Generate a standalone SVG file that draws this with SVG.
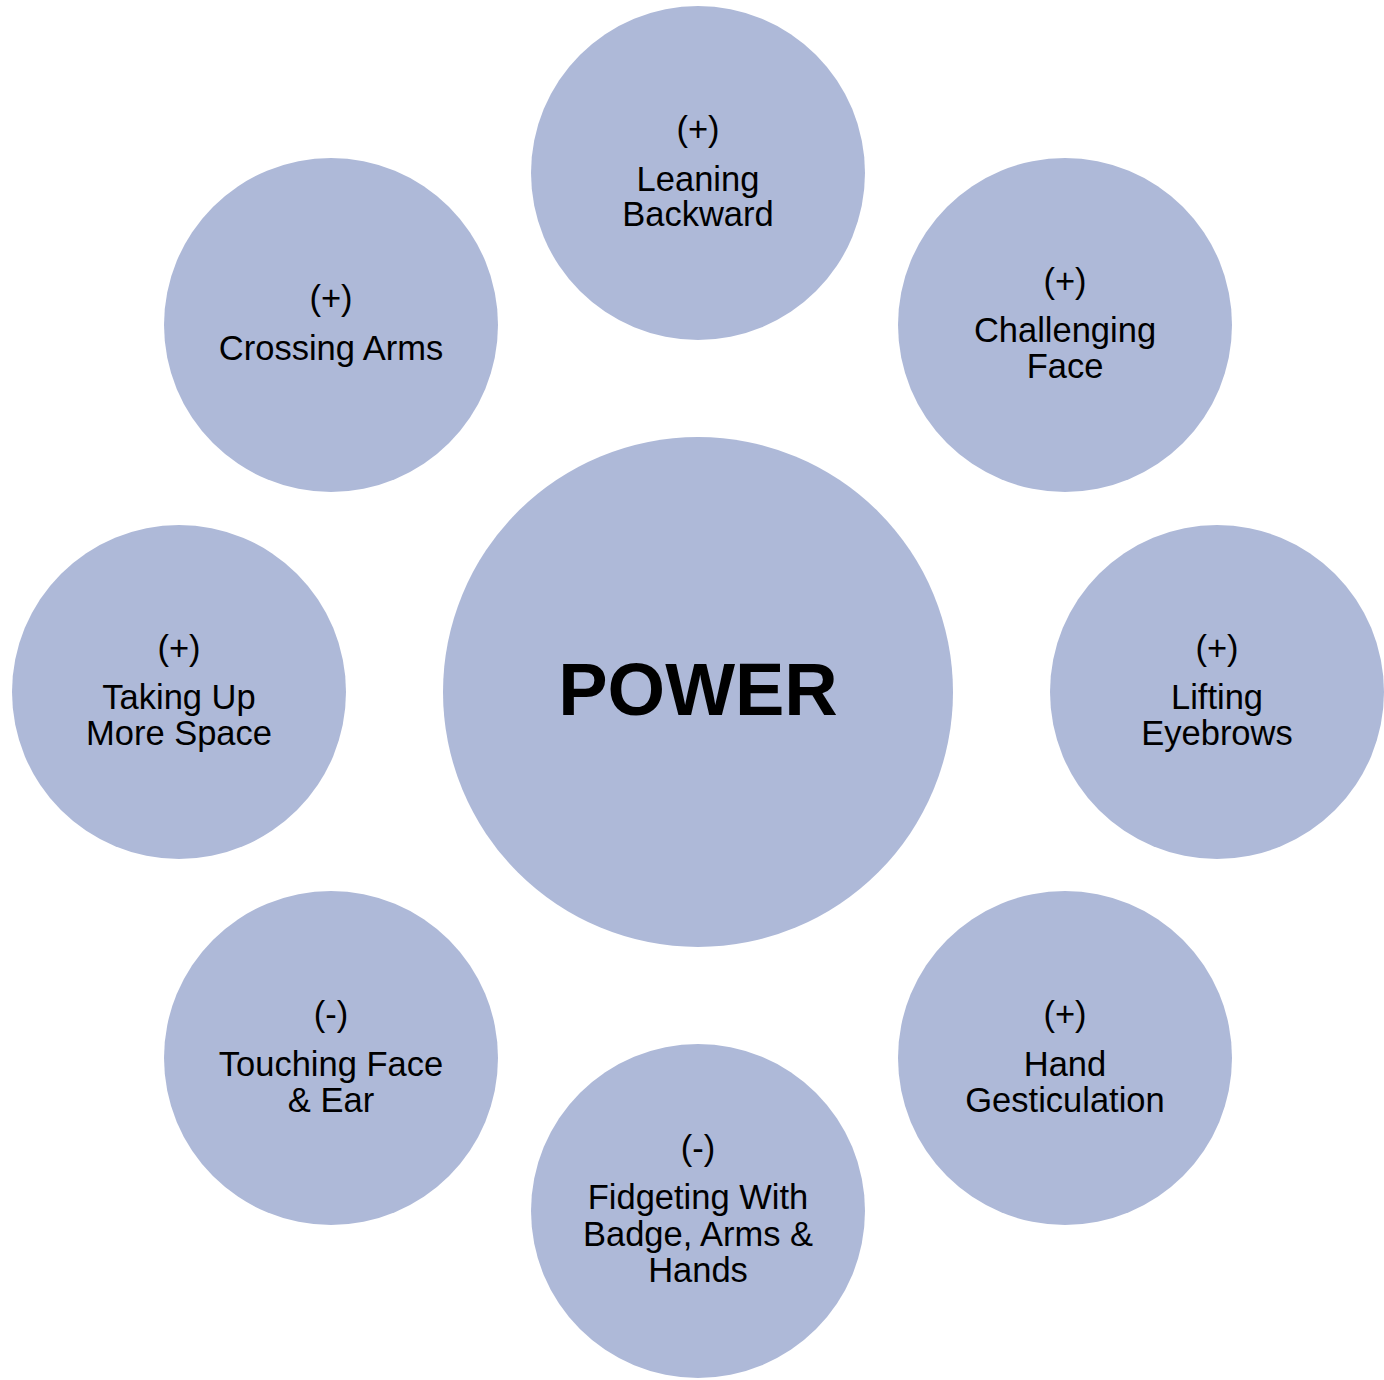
<svg xmlns="http://www.w3.org/2000/svg" width="1384" height="1380" viewBox="0 0 1384 1380">
  <style>
    .bubble { fill: #AEB9D8; }
    .label { font-family: "Liberation Sans", Arial, sans-serif; font-size: 34.5px; fill: #000; text-anchor: middle; }
    .title { font-family: "Liberation Sans", Arial, sans-serif; font-size: 74px; font-weight: bold; fill: #000; text-anchor: middle; }
  </style>
  <rect width="1384" height="1380" fill="#ffffff"/>
  <g id="connectors"></g>

  <g id="node-power">
    <circle class="bubble" cx="698" cy="692" r="255"/>
    <text class="title" x="698" y="715">POWER</text>
  </g>

  <g id="node-leaning-backward">
    <circle class="bubble" cx="698" cy="173" r="167"/>
    <text class="label" x="698" y="141">(+)</text>
    <text class="label" x="698" y="191">Leaning</text>
    <text class="label" x="698" y="226">Backward</text>
  </g>

  <g id="node-challenging-face">
    <circle class="bubble" cx="1065" cy="325" r="167"/>
    <text class="label" x="1065" y="293">(+)</text>
    <text class="label" x="1065" y="342">Challenging</text>
    <text class="label" x="1065" y="378">Face</text>
  </g>

  <g id="node-lifting-eyebrows">
    <circle class="bubble" cx="1217" cy="692" r="167"/>
    <text class="label" x="1217" y="660">(+)</text>
    <text class="label" x="1217" y="709">Lifting</text>
    <text class="label" x="1217" y="745">Eyebrows</text>
  </g>

  <g id="node-hand-gesticulation">
    <circle class="bubble" cx="1065" cy="1058" r="167"/>
    <text class="label" x="1065" y="1026">(+)</text>
    <text class="label" x="1065" y="1076">Hand</text>
    <text class="label" x="1065" y="1112">Gesticulation</text>
  </g>

  <g id="node-fidgeting">
    <circle class="bubble" cx="698" cy="1211" r="167"/>
    <text class="label" x="698" y="1160">(-)</text>
    <text class="label" x="698" y="1209">Fidgeting With</text>
    <text class="label" x="698" y="1246">Badge, Arms &amp;</text>
    <text class="label" x="698" y="1282">Hands</text>
  </g>

  <g id="node-touching-face">
    <circle class="bubble" cx="331" cy="1058" r="167"/>
    <text class="label" x="331" y="1026">(-)</text>
    <text class="label" x="331" y="1076">Touching Face</text>
    <text class="label" x="331" y="1112">&amp; Ear</text>
  </g>

  <g id="node-taking-up-space">
    <circle class="bubble" cx="179" cy="692" r="167"/>
    <text class="label" x="179" y="660">(+)</text>
    <text class="label" x="179" y="709">Taking Up</text>
    <text class="label" x="179" y="745">More Space</text>
  </g>

  <g id="node-crossing-arms">
    <circle class="bubble" cx="331" cy="325" r="167"/>
    <text class="label" x="331" y="310">(+)</text>
    <text class="label" x="331" y="360">Crossing Arms</text>
  </g>
</svg>
